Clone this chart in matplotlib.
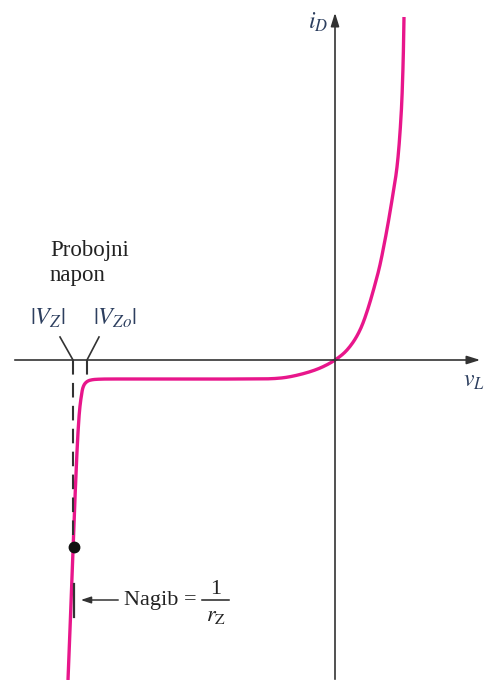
import numpy as np
import matplotlib
matplotlib.use("Agg")
import matplotlib.pyplot as plt

plt.rcParams['font.family'] = ['Liberation Serif', 'DejaVu Serif']
plt.rcParams['mathtext.fontset'] = 'stix'

# Forward branch (v_L, i_D) (arbitrary units)
v_forward = [0, 12, 25, 42, 50, 57, 62, 66, 68, 69]
i_forward = [0, 10, 30, 83, 120, 160, 193, 243, 293, 343]

# Reverse branch incl. breakdown
v_reverse = [0, -12, -25, -45, -60, -100, -200, -236, -243, -247, -250, -252, -253.5, -256, -267]
i_reverse = [0, -6.7, -11.7, -16.7, -18.5, -19, -19, -19.2, -19.8, -21, -23.5, -27.5, -35, -57, -320]

v_Z = -262      # |V_Z|
v_Z0 = -248     # |V_Z0|
i_point = -187  # marked operating point on breakdown line

curve_color = '#e8168b'
ink = '#333333'
label_color = '#2d3f5f'


def smooth(xs, ys, n=20):
    """Centripetal Catmull-Rom through the read points (for a smooth stroke)."""
    P = np.column_stack([xs, ys]).astype(float)
    P = np.vstack([2 * P[0] - P[1], P, 2 * P[-1] - P[-2]])
    out = []
    for k in range(1, len(P) - 2):
        p0, p1, p2, p3 = P[k - 1], P[k], P[k + 1], P[k + 2]
        t0 = 0.0
        t1 = t0 + np.linalg.norm(p1 - p0) ** 0.5 + 1e-9
        t2 = t1 + np.linalg.norm(p2 - p1) ** 0.5 + 1e-9
        t3 = t2 + np.linalg.norm(p3 - p2) ** 0.5 + 1e-9
        t = np.linspace(t1, t2, n)[:, None]
        a1 = (t1 - t) / (t1 - t0) * p0 + (t - t0) / (t1 - t0) * p1
        a2 = (t2 - t) / (t2 - t1) * p1 + (t - t1) / (t2 - t1) * p2
        a3 = (t3 - t) / (t3 - t2) * p2 + (t - t2) / (t3 - t2) * p3
        b1 = (t2 - t) / (t2 - t0) * a1 + (t - t0) / (t2 - t0) * a2
        b2 = (t3 - t) / (t3 - t1) * a2 + (t - t1) / (t3 - t1) * a3
        c = (t2 - t) / (t2 - t1) * b1 + (t - t1) / (t2 - t1) * b2
        out.append(c if k == 1 else c[1:])
    c = np.vstack(out)
    return c[:, 0], c[:, 1]


fig = plt.figure(figsize=(4.85, 6.8), dpi=100)
ax = fig.add_axes([0, 0, 1, 1])
ax.set_xlim(-335, 150)
ax.set_ylim(-320, 360)
ax.axis('off')

# axes
ax.annotate('', xy=(148, 0), xytext=(-323, 0),
            arrowprops=dict(arrowstyle='-|>,head_length=0.8,head_width=0.25', color=ink, lw=1.2))
ax.annotate('', xy=(0, 350), xytext=(0, -322),
            arrowprops=dict(arrowstyle='-|>,head_length=0.8,head_width=0.25', color=ink, lw=1.2))
ax.text(-7, 338, r'$i_D$', fontsize=17, color=label_color, ha='right', va='center')
ax.text(128, -22, r'$v_L$', fontsize=17, color=label_color, ha='left', va='center')

# curve: one continuous stroke, breakdown -> reverse -> forward
all_v = list(reversed(v_reverse)) + v_forward[1:]
all_i = list(reversed(i_reverse)) + i_forward[1:]
cx, cy = smooth(all_v, all_i)
ax.plot(cx, cy, color=curve_color, lw=2.4, solid_capstyle='butt', solid_joinstyle='round')

# breakdown slope point
bd_i = np.array(i_reverse[-3:])
bd_v = np.array(v_reverse[-3:])
v_point = float(np.interp(i_point, bd_i[::-1], bd_v[::-1]))
ax.plot([v_point], [i_point], 'o', color='#111111', ms=7.5, zorder=5)

# dashed lines
ax.plot([v_Z, v_Z], [0, i_point], color=ink, lw=1.5, dashes=(7, 4))
ax.plot([v_Z0, v_Z0], [0, -19], color=ink, lw=1.5, dashes=(7, 4))

# leader lines
ax.plot([-275, v_Z], [23, 0], color=ink, lw=1.2)
ax.plot([-236, v_Z0], [23, 0], color=ink, lw=1.2)

ax.text(-287, 42, r'$|V_Z|$', fontsize=17.5, color=label_color, ha='center', va='center')
ax.text(-220, 42, r'$|V_{Zo}|$', fontsize=17.5, color=label_color, ha='center', va='center')
ax.text(-285, 97, 'Probojni\nnapon', fontsize=16.5, color='#222222', ha='left', va='center',
        linespacing=1.2)

# slope marker
ax.plot([-261, -261], [-224, -257], color=ink, lw=1.6)
ax.annotate('', xy=(-257, -240), xytext=(-214, -240),
            arrowprops=dict(arrowstyle='-|>,head_length=0.6,head_width=0.2', color=ink, lw=1.1))
ax.text(-211, -240, 'Nagib =', fontsize=16, color='#222222', ha='left', va='center')
ax.plot([-133, -106], [-240, -240], color='#222222', lw=1.1)
ax.text(-119, -230, '1', fontsize=16, color='#222222', ha='center', va='center')
ax.text(-119, -256, r'$r_{\mathrm{Z}}$', fontsize=16, color='#222222', ha='center', va='center')

fig.savefig('out.png', dpi=100)
